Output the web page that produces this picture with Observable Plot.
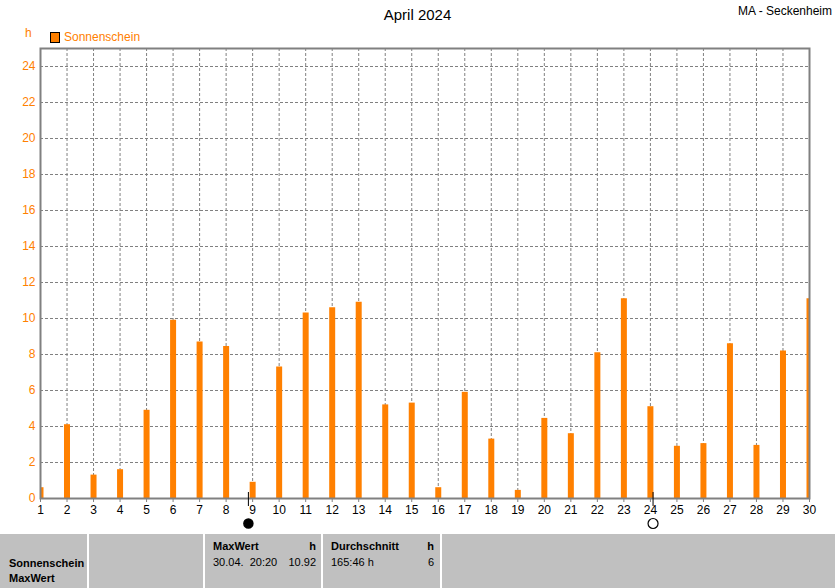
<!DOCTYPE html>
<html>
<head>
<meta charset="utf-8">
<script src="https://cdn.jsdelivr.net/npm/d3@7"></script>
<script src="https://cdn.jsdelivr.net/npm/@observablehq/plot@0.6"></script>
<style>
  html, body { margin: 0; padding: 0; background: white; }
  #wrap { position: relative; width: 835px; height: 588px; overflow: hidden; font-family: "Liberation Sans", Arial, sans-serif; }
  .abs { position: absolute; white-space: pre; }
  #table { position: absolute; left: 0; top: 534px; width: 835px; height: 54px; background: #c0c0c0; }
  .sep { position: absolute; top: 0; width: 2px; height: 54px; background: #ffffff; }
  .t { position: absolute; font-size: 11px; color: #000; white-space: pre; }
  .b { font-weight: bold; }
</style>
</head>
<body>
<div id="wrap">
  <div id="chart"></div>
  <div class="abs" style="left:0; width:835px; top:6px; text-align:center; font-size:15px; color:#000;">April 2024</div>
  <div class="abs" style="right:3px; top:4px; font-size:12px; color:#000;">MA - Seckenheim</div>
  <div class="abs" style="left:25px; top:26px; font-size:12px; color:#ff8000;">h</div>
  <div class="abs" style="left:50px; top:32px; width:8px; height:9px; background:#ff8000; border:1px solid #000;"></div>
  <div class="abs" style="left:64px; top:30px; font-size:12px; color:#ff8000;">Sonnenschein</div>
  <div id="table">
    <div class="sep" style="left:87px"></div>
    <div class="sep" style="left:203px"></div>
    <div class="sep" style="left:321px"></div>
    <div class="sep" style="left:440px"></div>
    <div class="t b" style="left:9px; top:23px;">Sonnenschein</div>
    <div class="t b" style="left:9px; top:38px;">MaxWert</div>
    <div class="t b" style="left:213px; top:6px;">MaxWert</div>
    <div class="t b" style="left:300px; width:16px; text-align:right; top:6px;">h</div>
    <div class="t" style="left:213px; top:22px;">30.04.  20:20</div>
    <div class="t" style="left:276px; width:40px; text-align:right; top:22px;">10.92</div>
    <div class="t b" style="left:331px; top:6px;">Durchschnitt</div>
    <div class="t b" style="left:414px; width:20px; text-align:right; top:6px;">h</div>
    <div class="t" style="left:331px; top:22px;">165:46 h</div>
    <div class="t" style="left:414px; width:20px; text-align:right; top:22px;">6</div>
  </div>
</div>
<script>
const days = d3.range(1, 31);
const sunshine = [0.6, 4.1, 1.3, 1.6, 4.9, 9.9, 8.7, 8.45, 0.9, 7.3,
                  10.3, 10.6, 10.9, 5.2, 5.3, 0.6, 5.9, 3.3, 0.45, 4.45,
                  3.6, 8.1, 11.1, 5.1, 2.9, 3.05, 8.6, 2.95, 8.2, 11.1];
const yTicks = d3.range(0, 25, 2);
const gridYTicks = d3.range(2, 25, 2);
const gridXTicks = d3.range(2, 30);
const moonDays = [8.84, 24.1];
const moonPhases = ["new", "full"];

const data = days.map((d, i) => ({day: d, value: sunshine[i]}));
const moons = moonDays.map((d, i) => ({day: d, phase: moonPhases[i]}));

const ORANGE = "#ff8000";
const GRAY = "#808080";

const chart = Plot.plot({
  width: 835,
  height: 534,
  marginLeft: 40,
  marginRight: 26,
  marginTop: 48,
  marginBottom: 36,
  x: {domain: [1, 30]},
  y: {domain: [0, 25]},
  style: {fontFamily: "Liberation Sans, Arial, sans-serif", fontSize: "12px", background: "transparent", overflow: "visible"},
  marks: [
    Plot.gridY(gridYTicks, {stroke: GRAY, strokeOpacity: 1, strokeDasharray: "3,2", strokeWidth: 1}),
    Plot.gridX(gridXTicks, {stroke: GRAY, strokeOpacity: 1, strokeDasharray: "3,2", strokeWidth: 1}),
    Plot.ruleX(data, {x: "day", y1: 0, y2: "value", stroke: ORANGE, strokeWidth: 6, clip: "frame"}),
    Plot.frame({stroke: GRAY, strokeWidth: 2}),
    Plot.axisY({ticks: yTicks, tickSize: 0, tickPadding: 5, fill: ORANGE, label: null}),
    Plot.axisX({ticks: days, tickSize: 4, tickPadding: 3, stroke: GRAY, fill: "#000", label: null, tickFormat: d => String(d)}),
    Plot.ruleX(moons, {x: "day", stroke: "#000", strokeWidth: 1, insetTop: 444, insetBottom: -8}),
    Plot.dot(moons.filter(m => m.phase === "new"), {x: "day", frameAnchor: "bottom", dy: 25, r: 4.5, fill: "#000", stroke: "#000"}),
    Plot.dot(moons.filter(m => m.phase === "full"), {x: "day", frameAnchor: "bottom", dy: 25, r: 5, fill: "none", stroke: "#000", strokeWidth: 1.2})
  ]
});
document.getElementById("chart").appendChild(chart);
</script>
</body>
</html>
